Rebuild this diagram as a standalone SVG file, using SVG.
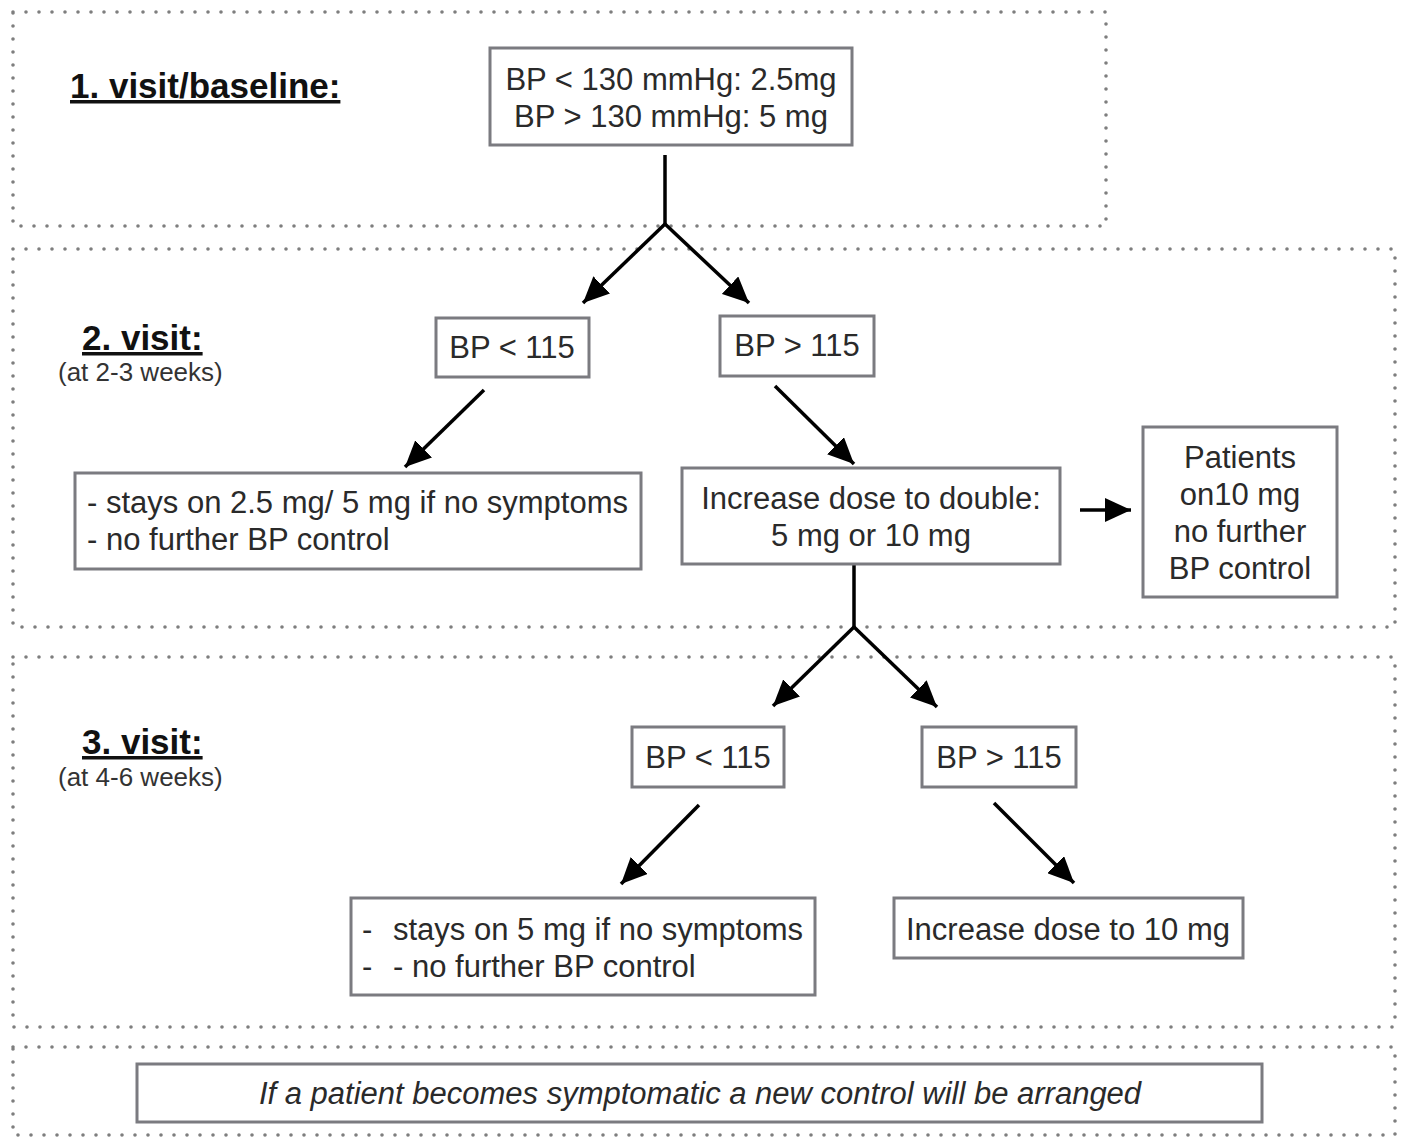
<svg xmlns="http://www.w3.org/2000/svg" width="1401" height="1138" viewBox="0 0 1401 1138">
<defs>
<style>
.zone{fill:none;stroke:#7e7e7e;stroke-width:3.6;stroke-dasharray:0 13;stroke-linecap:round}
.box{fill:#fff;stroke:#7b7b80;stroke-width:3}
.t{font-family:"Liberation Sans",Arial,sans-serif;font-size:31px;fill:#2a2a2a}
.c{text-anchor:middle}
.h{font-family:"Liberation Sans",Arial,sans-serif;font-size:35px;font-weight:bold;fill:#111;text-decoration:underline}
.s{font-family:"Liberation Sans",Arial,sans-serif;font-size:26px;fill:#333}
.i{font-style:italic}
.ln{fill:none;stroke:#000;stroke-width:3.5}
.ar{fill:none;stroke:#000;stroke-width:3.5;marker-end:url(#ah)}
</style>
<marker id="ah" markerUnits="userSpaceOnUse" markerWidth="28" markerHeight="24" viewBox="0 0 28 24" refX="26" refY="12" orient="auto">
<path d="M0,0 L26,12 L0,24 z" fill="#000"/>
</marker>
</defs>
<rect width="1401" height="1138" fill="#fff"/>
<g id="zones">
<rect class="zone" x="13" y="12" width="1093" height="214"/>
<rect class="zone" x="13" y="249" width="1382" height="378"/>
<rect class="zone" x="13" y="657" width="1382" height="370"/>
<rect class="zone" x="13" y="1047" width="1382" height="88"/>
</g>
<g id="labels">
<text class="h" x="70" y="98">1. visit/baseline:</text>
<text class="h" x="82" y="350">2. visit:</text>
<text class="s" x="58" y="381">(at 2-3 weeks)</text>
<text class="h" x="82" y="754">3. visit:</text>
<text class="s" x="58" y="786">(at 4-6 weeks)</text>
</g>
<g id="connectors">
<polyline class="ln" points="665,155 665,224"/>
<line class="ar" x1="665" y1="224" x2="583" y2="303"/>
<line class="ar" x1="665" y1="224" x2="749" y2="303"/>
<line class="ar" x1="484" y1="390" x2="405" y2="467"/>
<line class="ar" x1="775" y1="386" x2="854" y2="464"/>
<line class="ar" x1="1080" y1="510" x2="1131" y2="510"/>
<polyline class="ln" points="854,564 854,627"/>
<line class="ar" x1="854" y1="627" x2="773" y2="706"/>
<line class="ar" x1="854" y1="627" x2="937" y2="707"/>
<line class="ar" x1="699" y1="805" x2="621" y2="884"/>
<line class="ar" x1="994" y1="803" x2="1074" y2="883"/>
</g>
<g id="n-baseline">
<rect class="box" x="490" y="48" width="362" height="97"/>
<text class="t c" x="671" y="90">BP &lt; 130 mmHg: 2.5mg</text>
<text class="t c" x="671" y="127">BP &gt; 130 mmHg: 5 mg</text>
</g>
<g id="n-v2-low">
<rect class="box" x="436" y="318" width="153" height="59"/>
<text class="t c" x="512" y="358">BP &lt; 115</text>
</g>
<g id="n-v2-high">
<rect class="box" x="720" y="316" width="154" height="60"/>
<text class="t c" x="797" y="356">BP &gt; 115</text>
</g>
<g id="n-v2-stay">
<rect class="box" x="75" y="473" width="566" height="96"/>
<text class="t" x="87" y="513">- stays on 2.5 mg/ 5 mg if no symptoms</text>
<text class="t" x="87" y="550">- no further BP control</text>
</g>
<g id="n-v2-increase">
<rect class="box" x="682" y="468" width="378" height="96"/>
<text class="t c" x="871" y="509">Increase dose to double:</text>
<text class="t c" x="871" y="546">5 mg or 10 mg</text>
</g>
<g id="n-v2-patients">
<rect class="box" x="1143" y="427" width="194" height="170"/>
<text class="t c" x="1240" y="468">Patients</text>
<text class="t c" x="1240" y="505">on10 mg</text>
<text class="t c" x="1240" y="542">no further</text>
<text class="t c" x="1240" y="579">BP control</text>
</g>
<g id="n-v3-low">
<rect class="box" x="632" y="727" width="152" height="60"/>
<text class="t c" x="708" y="768">BP &lt; 115</text>
</g>
<g id="n-v3-high">
<rect class="box" x="922" y="727" width="154" height="60"/>
<text class="t c" x="999" y="768">BP &gt; 115</text>
</g>
<g id="n-v3-stay">
<rect class="box" x="351" y="898" width="464" height="97"/>
<text class="t" x="362" y="940">-</text>
<text class="t" x="393" y="940">stays on 5 mg if no symptoms</text>
<text class="t" x="362" y="977">-</text>
<text class="t" x="393" y="977">- no further BP control</text>
</g>
<g id="n-v3-increase">
<rect class="box" x="894" y="898" width="349" height="60"/>
<text class="t c" x="1068" y="940">Increase dose to 10 mg</text>
</g>
<g id="n-note">
<rect class="box" x="137" y="1064" width="1125" height="58"/>
<text class="t c i" x="700" y="1104">If a patient becomes symptomatic a new control will be arranged</text>
</g>
</svg>
